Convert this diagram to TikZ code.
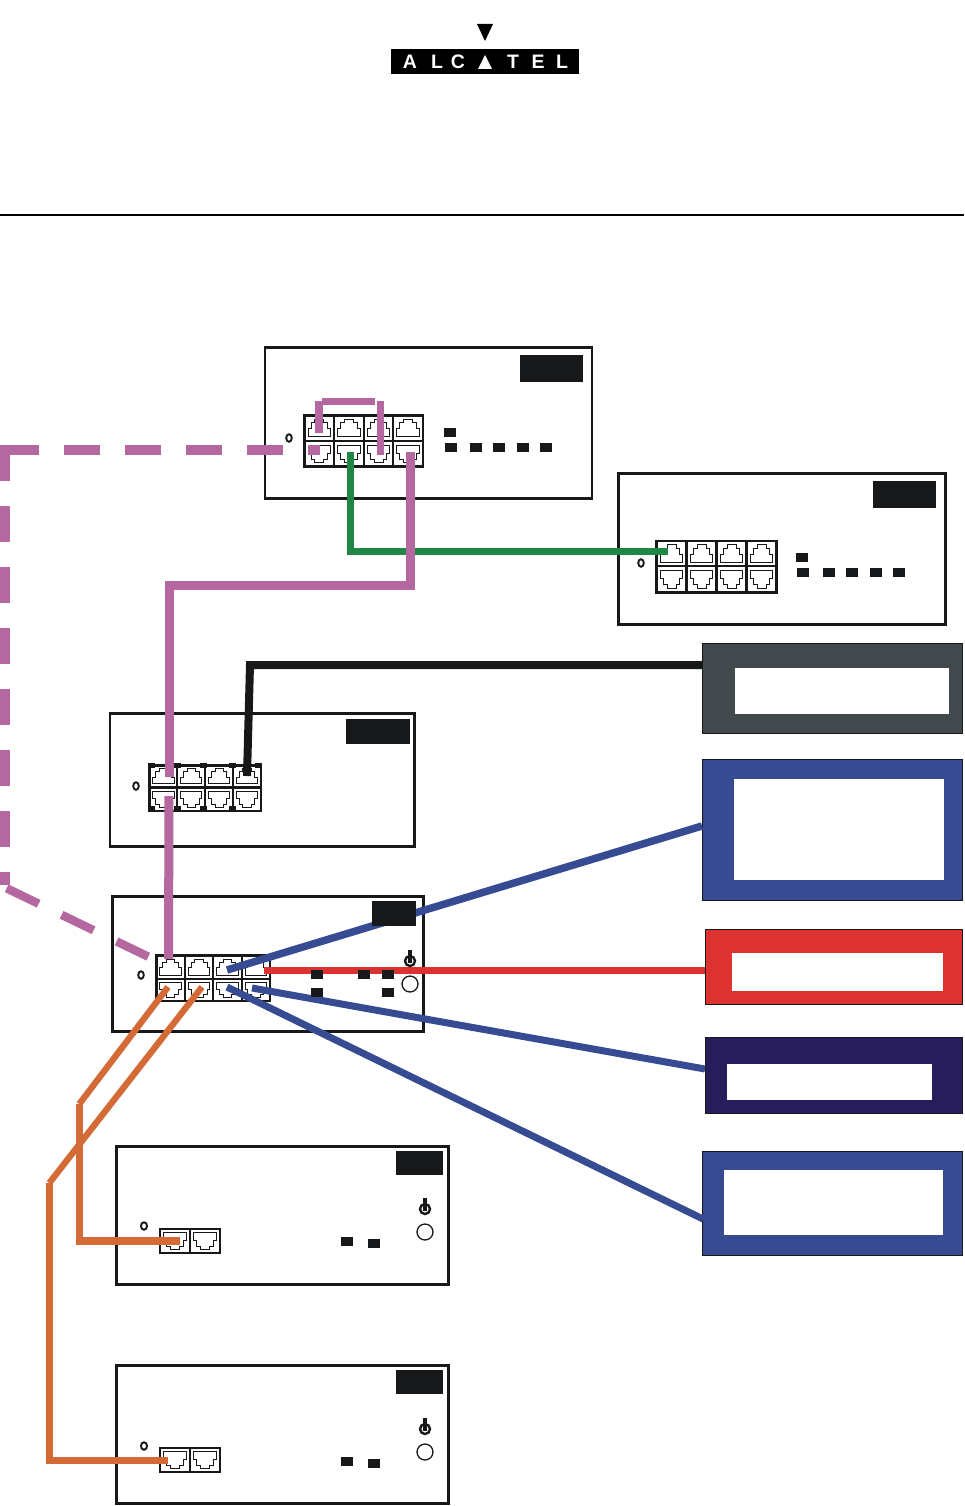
\documentclass[tikz,border=0pt]{standalone}
\usepackage{fontspec}
\setmainfont{Liberation Sans}
\definecolor{ink}{HTML}{16181A}
\definecolor{magentac}{HTML}{B5679F}
\definecolor{greenc}{HTML}{1F8743}
\definecolor{bluec}{HTML}{374B92}
\definecolor{redc}{HTML}{DC3330}
\definecolor{orangec}{HTML}{D46A35}
\definecolor{grayc}{HTML}{41494C}
\definecolor{navyc}{HTML}{271C5C}
\tikzset{
  devbox/.style={draw=ink,line width=2.7pt,fill=white,anchor=north west,inner sep=0pt,outer sep=0pt},
  labelbox/.style={fill=ink,anchor=north west,inner sep=0pt,outer sep=0pt},
  sidebox/.style={anchor=north west,inner sep=0pt,outer sep=0pt,draw=ink,line width=1.4pt},
  innerbox/.style={fill=white,anchor=north west,inner sep=0pt,outer sep=0pt},
  cable/.style={line width=#1,line cap=butt,line join=miter},
  jackline/.style={draw=ink,line width=1pt,line join=miter},
  framel/.style={draw=ink,line width=2.2pt},
  hole/.style={draw=ink,line width=1.9pt},
  logoletter/.style={text=white,font=\bfseries\fontsize{19.5}{19.5}\selectfont,inner sep=0pt}
}
% jack: centre x, centre y, half width, half height, direction (1 top row, -1 bottom row)
\newcommand{\jack}[5]{\begin{scope}[shift={(#1,#2)},xscale=#3,yscale=#4*#5]
 \draw[jackline] (-.76,.68)--(-.76,.05)--(-.56,.05)--(-.56,-.42)--(-.3,-.42)--(-.3,-.7)--(.3,-.7)--(.3,-.42)--(.56,-.42)--(.56,.05)--(.76,.05)--(.76,.68)--cycle;
\end{scope}}
% 8-port block: left, top, right, mid, bottom
\newcommand{\portblock}[5]{%
 \pgfmathsetmacro{\cw}{(#3-#1)/4}\pgfmathsetmacro{\hw}{\cw/2}%
 \pgfmathsetmacro{\ha}{(#4-#2)/2}\pgfmathsetmacro{\hb}{(#5-#4)/2}%
 \pgfmathsetmacro{\ya}{(#2+#4)/2}\pgfmathsetmacro{\yb}{(#4+#5)/2}%
 \foreach \i in {0,1,2,3}{%
  \pgfmathsetmacro{\xc}{#1+\cw*\i+\hw}%
  \jack{\xc}{\ya}{\hw}{\ha}{1}\jack{\xc}{\yb}{\hw}{\hb}{-1}%
  \ifnum\i>0 \pgfmathsetmacro{\xd}{#1+\cw*\i}\draw[framel] (\xd,#2)--(\xd,#5);\fi}%
 \draw[framel] (#1,#2) rectangle (#3,#5);
 \draw[framel] (#1,#4)--(#3,#4);}
\newcommand{\led}[2]{\fill[ink] (#1,#2) rectangle ++(11.5,8.5);}
\newcommand{\powersym}[2]{%
 \draw[ink,line width=2.4pt] (#1,#2) circle[radius=5pt];
 \fill[ink] (#1-2.3,#2-11) rectangle (#1+2.3,#2+2);
 \draw[ink,line width=1.3pt] (#1,#2+23) circle[radius=8pt];}
\begin{document}
\begin{tikzpicture}[x=1pt,y=-1pt]
\useasboundingbox (0,0) rectangle (964,1506);
\fill[white] (0,0) rectangle (964,1506);

% logo
\fill[black] (477,24)--(493,24)--(485,41)--cycle;
\node[fill=black,anchor=north west,minimum width=188pt,minimum height=25pt,inner sep=0pt] (logobar) at (391,49) {};
\node[logoletter] (l1) at (410,62) {A};
\node[logoletter] (l2) at (437,62) {L};
\node[logoletter] (l3) at (458,62) {C};
\fill[white] (478,69)--(492,69)--(485,55)--cycle;
\node[logoletter] (l5) at (513,62) {T};
\node[logoletter] (l6) at (538,62) {E};
\node[logoletter] (l7) at (562,62) {L};

% rule
\draw[black,line width=2pt] (0,215.5)--(964,215.5);

% device boxes
\node[devbox,minimum width=327pt,minimum height=151pt] (dev1) at (265,347.5) {};
\node[devbox,minimum width=327pt,minimum height=151pt] (dev2) at (618.5,473.5) {};
\node[devbox,minimum width=304.5pt,minimum height=133pt] (dev3) at (110,713.5) {};
\node[devbox,minimum width=311pt,minimum height=135pt] (dev4) at (112.5,896.5) {};
\node[devbox,minimum width=332pt,minimum height=138pt] (dev5) at (116.5,1146.5) {};
\node[devbox,minimum width=332pt,minimum height=138pt] (dev6) at (116.5,1365.5) {};

% status holes
\draw[hole] (289,438) ellipse[x radius=2.8pt,y radius=3.8pt];
\draw[hole] (641,563) ellipse[x radius=2.8pt,y radius=3.8pt];
\draw[hole] (136,786) ellipse[x radius=2.8pt,y radius=3.8pt];
\draw[hole] (141,975) ellipse[x radius=2.8pt,y radius=3.8pt];
\draw[hole] (144,1226) ellipse[x radius=3pt,y radius=3.8pt];
\draw[hole] (144,1446) ellipse[x radius=3pt,y radius=3.8pt];

% right-hand boxes
\node[sidebox,fill=grayc,minimum width=260pt,minimum height=90pt] (boxgray) at (702.5,643.5) {};
\node[innerbox,minimum width=214pt,minimum height=46pt] (ingray) at (735,668) {};
\node[sidebox,fill=bluec,minimum width=260pt,minimum height=141pt] (boxblueA) at (702.5,759.5) {};
\node[innerbox,minimum width=210pt,minimum height=101pt] (inblueA) at (734,779) {};
\node[sidebox,fill=redc,minimum width=257pt,minimum height=75pt] (boxred) at (705.5,929.5) {};
\node[innerbox,minimum width=211pt,minimum height=38pt] (inred) at (732,953) {};
\node[sidebox,fill=navyc,minimum width=257pt,minimum height=76pt] (boxnavy) at (705.5,1037.5) {};
\node[innerbox,minimum width=205pt,minimum height=36pt] (innavy) at (727,1064) {};
\node[sidebox,fill=bluec,minimum width=260pt,minimum height=104pt] (boxblueB) at (702.5,1151.5) {};
\node[innerbox,minimum width=219pt,minimum height=65pt] (inblueB) at (724,1170) {};

% port blocks
\portblock{304.5}{415.5}{423}{441}{466.5}
\portblock{656.5}{541}{776.5}{566}{592.5}
\portblock{149.5}{765.5}{261}{787.5}{811}
\portblock{156.5}{955.5}{270}{979}{1001}
% tabs on the third block
\foreach \tx in {148,174,200,229,255}{\fill[ink] (\tx,763) rectangle ++(6.5,5);}
\foreach \tx in {148,174,200,229}{\fill[ink] (\tx,806) rectangle ++(7,6);}

% 2-port blocks
\jack{175}{1241}{15}{12}{-1}\jack{205}{1241}{15}{12}{-1}
\draw[framel] (160,1229) rectangle (220,1253);
\draw[framel] (190,1229)--(190,1253);
\jack{175}{1460}{15}{12}{-1}\jack{205}{1460}{15}{12}{-1}
\draw[framel] (160,1448) rectangle (220,1472);
\draw[framel] (190,1448)--(190,1472);

% connection points
\coordinate (dashS) at (283,450);
\coordinate (dashH) at (0,450);
\coordinate (dashV) at (5,445);
\coordinate (dashW) at (5,885);
\coordinate (dashD) at (6.7,888.3);
\coordinate (dashE) at (148.3,956.7);
\coordinate (stubA) at (307.5,450);
\coordinate (stubB) at (320,450);
\coordinate (loopA) at (319,433);
\coordinate (loopB) at (319,401);
\coordinate (loopT1) at (322,401.5);
\coordinate (loopT2) at (375,401.5);
\coordinate (loopC) at (380.5,401);
\coordinate (loopD) at (380.5,455);
\coordinate (grS) at (350.5,452);
\coordinate (grC) at (350.5,551);
\coordinate (grE) at (668,551);
\coordinate (maS) at (410,452);
\coordinate (maC1) at (410,585);
\coordinate (maC2) at (169,585);
\coordinate (maE1) at (169,777);
\coordinate (maS2) at (169,796);
\coordinate (maE2) at (168.5,959);
\coordinate (blkS) at (702,665);
\coordinate (blkC) at (250,665);
\coordinate (blkE) at (247,776);
\coordinate (bluA1) at (227,970);
\coordinate (bluA2) at (702,826);
\coordinate (bluB1) at (252,988);
\coordinate (bluB2) at (705,1069);
\coordinate (bluC1) at (227,987);
\coordinate (bluC2) at (703,1219);
\coordinate (redS) at (264,970);
\coordinate (redE) at (705,970);
\coordinate (orA1) at (168,987);
\coordinate (orA2) at (79.3,1104);
\coordinate (orA3) at (79.3,1241);
\coordinate (orA4) at (180,1241);
\coordinate (orB1) at (202,987);
\coordinate (orB2) at (49.3,1183);
\coordinate (orB3) at (49.3,1460);
\coordinate (orB4) at (168,1460);

% cables
\draw[magentac,cable=10pt,dash pattern=on 36pt off 25pt] (dashS)--(dashH);
\draw[magentac,cable=10pt,dash pattern=on 36pt off 25pt] (dashV)--(dashW);
\draw[magentac,cable=8.5pt,dash pattern=on 35.5pt off 25.5pt] (dashD)--(dashE);
\draw[magentac,cable=10pt] (stubA)--(stubB);
\draw[magentac,cable=7.5pt] (loopA)--(loopB);
\draw[magentac,cable=7pt] (loopT1)--(loopT2);
\draw[magentac,cable=7pt] (loopC)--(loopD);
\draw[greenc,cable=7pt] (grS)--(grC)--(grE);
\draw[magentac,cable=9pt] (maS)--(maC1)--(maC2)--(maE1);
\draw[magentac,cable=9pt] (maS2)--(maE2);
\draw[ink,cable=8pt] (blkS)--(blkC)--(blkE);
\draw[bluec,cable=7.5pt] (bluA1)--(bluA2);
\draw[bluec,cable=7pt] (bluB1)--(bluB2);
\draw[bluec,cable=7pt] (bluC1)--(bluC2);
\draw[redc,cable=7pt] (redS)--(redE);
\draw[orangec,cable=6.3pt] (orA1)--(orA2);
\draw[orangec,cable=6.5pt] (orA2)--(orA3);
\draw[orangec,cable=8pt] ([xshift=-3.25pt]orA3)--(orA4);
\draw[orangec,cable=6.3pt] (orB1)--(orB2);
\draw[orangec,cable=6.5pt] (orB2)--(orB3);
\draw[orangec,cable=7pt] ([xshift=-3.25pt]orB3)--(orB4);

% black labels
\node[labelbox,minimum width=63pt,minimum height=27pt] (lab1) at (520,355) {};
\node[labelbox,minimum width=63pt,minimum height=27pt] (lab2) at (873,481) {};
\node[labelbox,minimum width=64pt,minimum height=25pt] (lab3) at (346,719) {};
\node[labelbox,minimum width=44pt,minimum height=25pt] (lab4) at (372,901) {};
\node[labelbox,minimum width=47pt,minimum height=24pt] (lab5) at (396,1151) {};
\node[labelbox,minimum width=47pt,minimum height=24pt] (lab6) at (396,1370) {};

% LEDs
\led{444}{428}
\foreach \lx in {445,470,493,517,540}{\led{\lx}{443}}
\led{796}{553}
\foreach \lx in {797,823,846,870,893}{\led{\lx}{568}}
\led{311}{970}\led{358}{970}\led{382}{970}
\led{311}{988}\led{382}{988}
\led{341}{1237}\led{368}{1239}
\led{341}{1457}\led{368}{1459}

% power symbols
\powersym{410}{961}
\powersym{425}{1209}
\powersym{425}{1429}
\end{tikzpicture}
\end{document}
